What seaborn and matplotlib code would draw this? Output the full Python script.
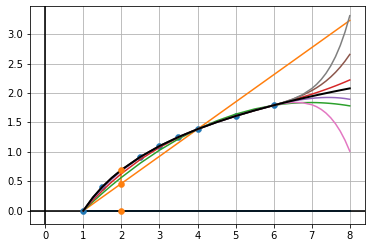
import matplotlib
matplotlib.use("Agg")
import matplotlib.pyplot as plt
import seaborn as sns

# Sample x positions for the curves
X = [1, 1.25, 1.5, 1.75, 2, 2.5, 3, 3.5, 4, 4.5, 5, 5.5, 6,
     6.25, 6.5, 6.75, 7, 7.125, 7.25, 7.375, 7.5, 7.625, 7.75, 7.875, 8]

ln_y = [0, 0.2231, 0.4055, 0.5596, 0.6931, 0.9163, 1.0986, 1.2528, 1.3863,
        1.5041, 1.6094, 1.7047, 1.7918, 1.8326, 1.8718, 1.9095, 1.9459,
        1.9636, 1.9810, 1.9981, 2.0149, 2.0314, 2.0477, 2.0637, 2.0794]
green_y = [0, 0.1512, 0.2959, 0.4341, 0.5659, 0.8099, 1.0279, 1.2201, 1.3863,
           1.5266, 1.6409, 1.7293, 1.7918, 1.8133, 1.8283, 1.8368, 1.8389,
           1.8375, 1.8344, 1.8298, 1.8235, 1.8157, 1.8061, 1.7950, 1.7822]
red_y = [0, 0.1769, 0.3401, 0.4905, 0.6288, 0.8718, 1.0751, 1.2447, 1.3863,
         1.5059, 1.6094, 1.7028, 1.7918, 1.8365, 1.8824, 1.9301, 1.9805,
         2.0068, 2.0342, 2.0625, 2.0919, 2.1226, 2.1545, 2.1879, 2.2227]
purple_y = [0, 0.2008, 0.3787, 0.5361, 0.6757, 0.9103, 1.0986, 1.2538, 1.3863,
            1.5034, 1.6094, 1.7061, 1.7918, 1.8293, 1.8622, 1.8895, 1.9100,
            1.9173, 1.9224, 1.9251, 1.9251, 1.9222, 1.9163, 1.9070, 1.8941]
brown_y = [0, 0.2203, 0.4055, 0.5590, 0.6931, 0.9163, 1.0986, 1.2528, 1.3863,
           1.5041, 1.6094, 1.7047, 1.7918, 1.8402, 1.8950, 1.9602, 2.0408,
           2.0887, 2.1429, 2.2042, 2.2737, 2.3524, 2.4417, 2.5427, 2.6568]
pink_y = [0, 0.2231, 0.4055, 0.5596, 0.6931, 0.9163, 1.0986, 1.2528, 1.3863,
          1.5041, 1.6094, 1.7047, 1.7918, 1.8230, 1.8406, 1.8371, 1.8022,
          1.7688, 1.7222, 1.6600, 1.5796, 1.4780, 1.3520, 1.1979, 1.0117]
gray_y = [0, 0.2231, 0.4055, 0.5596, 0.6931, 0.9163, 1.0986, 1.2528, 1.3863,
          1.5041, 1.6094, 1.7047, 1.7918, 1.8394, 1.8960, 1.9703, 2.0755,
          2.1455, 2.2309, 2.3353, 2.4630, 2.6188, 2.8082, 3.0379, 3.3150]

# Straight (linear) interpolation line
lin_x = [1, 8]
lin_y = [0, 3.2347]

# Node points
node_x = [1, 1.5, 2.5, 3, 3.5, 4, 5, 6]
node_y = [0, 0.4055, 0.9163, 1.0986, 1.2528, 1.3863, 1.6094, 1.7918]

# Orange markers at x = 2
mark_x = [2, 2, 2]
mark_y = [0.6931, 0.4621, 0]
err_x = [2, 2]
err_y = [0.4621, 0.6931]

# baseline segment
base_x = [1, 8]
base_y = [0, 0]

W, H, DPI = 372, 248, 72
fig = plt.figure(figsize=(W / DPI, H / DPI), dpi=DPI)
ax = fig.add_axes([30 / W, 1 - 224 / H, 335 / W, 218 / H])

C = plt.rcParams['axes.prop_cycle'].by_key()['color']

sns.lineplot(x=base_x, y=base_y, color=C[0], lw=2, ax=ax, estimator=None, sort=False)
ax.axhline(0, color='k', lw=2, alpha=0.8)
ax.axvline(0, color='k', lw=2, alpha=0.8)

sns.scatterplot(x=node_x, y=node_y, color=C[0], s=36, edgecolor=C[0], linewidth=0.5, ax=ax, zorder=2)

sns.lineplot(x=lin_x, y=lin_y, color=C[1], lw=1.5, ax=ax, estimator=None, sort=False)
sns.lineplot(x=err_x, y=err_y, color=C[1], lw=1.5, ax=ax, estimator=None, sort=False)
sns.scatterplot(x=mark_x, y=mark_y, color=C[1], s=36, edgecolor=C[1], linewidth=0.5, ax=ax, zorder=3)

for ys, col in [(green_y, C[2]), (red_y, C[3]), (purple_y, C[4]),
                (brown_y, C[5]), (pink_y, C[6]), (gray_y, C[7])]:
    sns.lineplot(x=X, y=ys, color=col, lw=1.5, ax=ax, estimator=None, sort=False)

sns.lineplot(x=X, y=ln_y, color='k', lw=2, ax=ax, estimator=None, sort=False)

ax.set_xlim(-0.4, 8.4)
ax.set_ylim(-0.226, 3.48)
ax.set_xticks(range(0, 9))
ax.set_yticks([0.0, 0.5, 1.0, 1.5, 2.0, 2.5, 3.0])
ax.set_yticklabels(['0.0', '0.5', '1.0', '1.5', '2.0', '2.5', '3.0'])
ax.tick_params(labelsize=10)
ax.grid(True, color='#b0b0b0', lw=0.8)
ax.set_axisbelow(True)

fig.savefig("out.png", dpi=DPI)
